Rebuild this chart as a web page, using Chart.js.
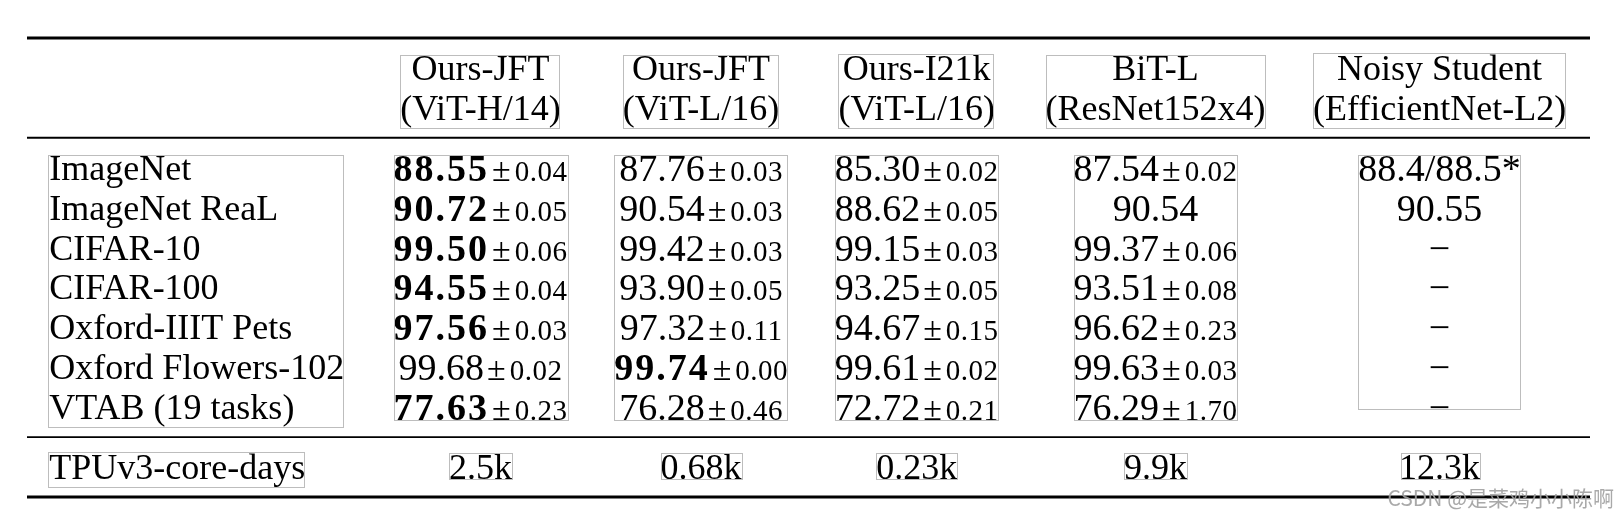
<!DOCTYPE html>
<html>
<head>
<meta charset="utf-8">
<script src="https://cdn.jsdelivr.net/npm/chart.js@4.4.1/dist/chart.umd.min.js"></script>
<style>
  html, body { margin: 0; padding: 0; background: #fff; }
</style>
</head>
<body>
<canvas id="table" width="1616" height="518"></canvas>
<script>
// table contents
const headTop = ['Ours-JFT', 'Ours-JFT', 'Ours-I21k', 'BiT-L', 'Noisy Student'];
const headSub = ['(ViT-H/14)', '(ViT-L/16)', '(ViT-L/16)', '(ResNet152x4)', '(EfficientNet-L2)'];
const tasks = ['ImageNet', 'ImageNet ReaL', 'CIFAR-10', 'CIFAR-100', 'Oxford-IIIT Pets', 'Oxford Flowers-102', 'VTAB (19 tasks)'];

const jftH14 = [88.55, 90.72, 99.50, 94.55, 97.56, 99.68, 77.63];
const jftH14Err = [0.04, 0.05, 0.06, 0.04, 0.03, 0.02, 0.23];
const jftL16 = [87.76, 90.54, 99.42, 93.90, 97.32, 99.74, 76.28];
const jftL16Err = [0.03, 0.03, 0.03, 0.05, 0.11, 0.00, 0.46];
const i21kL16 = [85.30, 88.62, 99.15, 93.25, 94.67, 99.61, 72.72];
const i21kL16Err = [0.02, 0.05, 0.03, 0.05, 0.15, 0.02, 0.21];
const bitL = [87.54, 90.54, 99.37, 93.51, 96.62, 99.63, 76.29];
const bitLErr = [0.02, null, 0.06, 0.08, 0.23, 0.03, 1.70];
const noisyStudent = ['88.4/88.5*', '90.55', '\u2212', '\u2212', '\u2212', '\u2212', '\u2212'];

const computeLabel = 'TPUv3-core-days';
const tpuDays = ['2.5k', '0.68k', '0.23k', '9.9k', '12.3k'];

const watermark = 'CSDN @是菜鸡小小陈啊';

// fonts
const SERIF = '"Liberation Serif", "Times New Roman", serif';
const textFont = '36px ' + SERIF;
const numFont = '38px ' + SERIF;
const boldFont = 'bold 38px ' + SERIF;
const pmFont = '34px ' + SERIF;
const errFont = '29px ' + SERIF;
const SEP = 22;

// measuring context
const mctx = document.createElement('canvas').getContext('2d');
function textW(str, font, spacing) {
    mctx.font = font;
    mctx.letterSpacing = spacing || '0px';
    return mctx.measureText(str).width;
}

// cells of the numeric part
const numCols = [[jftH14, jftH14Err], [jftL16, jftL16Err], [i21kL16, i21kL16Err], [bitL, bitLErr]];
const cells = tasks.map((t, i) => {
    const best = Math.max(...numCols.map(c => c[0][i]));
    const row = numCols.map(c => ({
        main: c[0][i].toFixed(2),
        err: c[1][i] === null ? null : c[1][i].toFixed(2),
        bold: c[0][i] === best
    }));
    row.push({ main: noisyStudent[i], err: null, bold: false });
    return row;
});

function cellWidth(c) {
    let w = textW(c.main, c.bold ? boldFont : numFont, c.bold ? '2px' : '0px');
    if (c.err !== null) w += 3 + textW('±', pmFont) + 4 + textW(c.err, errFont, '0.5px');
    return w;
}

// column widths like a LaTeX tabular
const labelColW = Math.max(...tasks.map(t => textW(t, textFont)), textW(computeLabel, textFont)) + 2 * SEP;
const colW = headTop.map((h, j) => Math.max(
    textW(h, textFont), textW(headSub[j], textFont), textW(tpuDays[j], textFont),
    ...cells.map(r => cellWidth(r[j]))
) + 2 * SEP);
const colCenter = [];
let xAcc = labelColW;
colW.forEach(w => { colCenter.push(xAcc + w / 2); xAcc += w; });
const tableW = xAcc;

// rows in units of baselineskip
const GAP = 0.75;
const topRule = 0;
const headRows = [GAP, GAP + 1];
const midRule = headRows[1] + GAP;
const dataRows = tasks.map((t, i) => midRule + GAP + i);
const lowRule = dataRows[dataRows.length - 1] + GAP;
const tpuRow = lowRule + GAP;
const bottomRule = tpuRow + GAP;

const rules = [[topRule, 3], [midRule, 1.9], [lowRule, 1.9], [bottomRule, 3]];

const anchors = [];
headRows.forEach(y => colCenter.forEach(x => anchors.push({ x: x, y: y })));
dataRows.forEach(y => colCenter.forEach(x => anchors.push({ x: x, y: y })));
colCenter.forEach(x => anchors.push({ x: x, y: tpuRow }));

function drawInk(ctx, str, font, x, y, align, spacing) {
    ctx.font = font;
    ctx.letterSpacing = spacing || '0px';
    ctx.textAlign = align;
    ctx.textBaseline = 'alphabetic';
    ctx.fillText(str, x, y);
    const m = ctx.measureText(str);
    return { l: x - m.actualBoundingBoxLeft, r: x + m.actualBoundingBoxRight,
             t: y - m.actualBoundingBoxAscent, b: y + m.actualBoundingBoxDescent };
}
function union(a, b) {
    if (!a) return b;
    return { l: Math.min(a.l, b.l), r: Math.max(a.r, b.r), t: Math.min(a.t, b.t), b: Math.max(a.b, b.b) };
}
function box(ctx, bx) {
    ctx.save();
    ctx.strokeStyle = '#bdbdbd';
    ctx.lineWidth = 1;
    ctx.letterSpacing = '0px';
    ctx.strokeRect(Math.round(bx.l) - 0.5, Math.round(bx.t) - 0.5, Math.round(bx.r - bx.l) + 1, Math.round(bx.b - bx.t) + 1);
    ctx.restore();
}

const tablePlugin = {
    id: 'tableText',
    afterDatasetsDraw(chart) {
        const ctx = chart.ctx;
        const xs = chart.scales.x, ys = chart.scales.y;
        const capT = 12, capN = 13;
        ctx.save();
        ctx.fillStyle = '#000';
        const boxes = [];

        // header
        headTop.forEach((h, j) => {
            const x = xs.getPixelForValue(colCenter[j]);
            let bx = drawInk(ctx, h, textFont, x, ys.getPixelForValue(headRows[0]) + capT, 'center');
            bx = union(bx, drawInk(ctx, headSub[j], textFont, x, ys.getPixelForValue(headRows[1]) + capT, 'center'));
            boxes.push(bx);
        });

        // task labels
        let lb = null;
        const lx = xs.getPixelForValue(SEP);
        tasks.forEach((t, i) => {
            lb = union(lb, drawInk(ctx, t, textFont, lx, ys.getPixelForValue(dataRows[i]) + capT, 'left'));
        });
        boxes.push(lb);

        // numbers
        colCenter.forEach((cx, j) => {
            let cb = null;
            cells.forEach((r, i) => {
                const c = r[j];
                const y = ys.getPixelForValue(dataRows[i]) + capN;
                let x = xs.getPixelForValue(cx) - cellWidth(c) / 2;
                const f = c.bold ? boldFont : numFont;
                const sp = c.bold ? '2px' : '0px';
                cb = union(cb, drawInk(ctx, c.main, f, x, y, 'left', sp));
                if (c.err !== null) {
                    x += textW(c.main, f, sp) + 3;
                    cb = union(cb, drawInk(ctx, '±', pmFont, x, y, 'left'));
                    x += textW('±', pmFont) + 4;
                    cb = union(cb, drawInk(ctx, c.err, errFont, x, y, 'left', '0.5px'));
                }
            });
            boxes.push(cb);
        });

        // compute row
        const ty = ys.getPixelForValue(tpuRow) + capT;
        boxes.push(drawInk(ctx, computeLabel, textFont, lx, ty, 'left'));
        tpuDays.forEach((d, j) => {
            boxes.push(drawInk(ctx, d, textFont, xs.getPixelForValue(colCenter[j]), ty, 'center'));
        });

        boxes.forEach(b => box(ctx, b));
        ctx.restore();
    },
    afterDraw(chart) {
        const ctx = chart.ctx;
        ctx.save();
        ctx.font = '21px "Noto Sans CJK SC", "Noto Sans", sans-serif';
        ctx.letterSpacing = '0px';
        ctx.fillStyle = 'rgba(160,160,160,0.9)';
        ctx.textAlign = 'right';
        ctx.textBaseline = 'alphabetic';
        ctx.fillText(watermark, chart.width - 2, chart.height - 12);
        ctx.restore();
    }
};

const ruleSets = rules.map(r => ({
    type: 'line',
    data: [{ x: 0, y: r[0] }, { x: tableW, y: r[0] }],
    borderColor: '#000',
    borderWidth: r[1],
    pointRadius: 0,
    clip: false
}));

new Chart(document.getElementById('table'), {
    type: 'scatter',
    data: {
        datasets: [
            ...ruleSets,
            { data: anchors, pointRadius: 0, clip: false }
        ]
    },
    options: {
        responsive: false,
        animation: false,
        devicePixelRatio: 1,
        layout: { padding: { left: 27, right: 26, top: 38, bottom: 21 } },
        plugins: { legend: { display: false }, tooltip: { enabled: false } },
        scales: {
            x: { type: 'linear', display: false, min: 0, max: tableW },
            y: { type: 'linear', display: false, min: 0, max: bottomRule, reverse: true }
        }
    },
    plugins: [tablePlugin]
});
</script>
</body>
</html>
